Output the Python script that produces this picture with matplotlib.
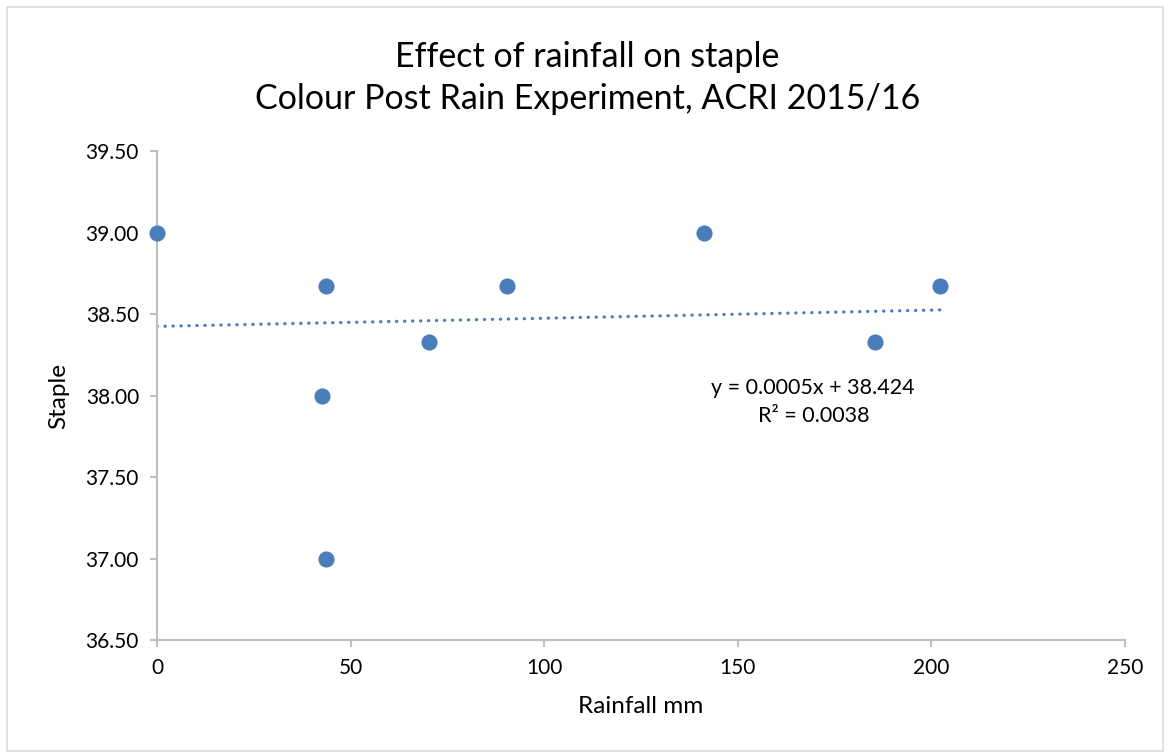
import numpy as np
import matplotlib.pyplot as plt
from matplotlib.patches import Rectangle

plt.rcParams['font.family'] = ['Lato', 'DejaVu Sans']

# rainfall (mm) vs staple
rainfall = [0, 43.6, 42.6, 43.6, 70.3, 90.4, 141.3, 185.4, 202.2]
staple = [39.00, 38.67, 38.00, 37.00, 38.33, 38.67, 39.00, 38.33, 38.67]

# linear trendline as reported on the chart
slope = 0.0005
intercept = 38.424
r_squared = 0.0038

x_ticks = [0, 50, 100, 150, 200, 250]
y_ticks = [36.5, 37.0, 37.5, 38.0, 38.5, 39.0, 39.5]

blue = '#4A7EBB'
grey = '#BFBFBF'

fig = plt.figure(figsize=(11.68, 7.54), dpi=100)
ax = fig.add_axes([0.1344, 0.1512, 0.8288, 0.6485])

# outer chart border
fig.patches.append(Rectangle((0.006, 0.004), 0.990, 0.987, transform=fig.transFigure,
                             fill=False, edgecolor='#D9D9D9', linewidth=1.2))

ax.scatter(rainfall, staple, s=135, color=blue, zorder=3, linewidths=0, clip_on=False)

xt = np.array([0, max(rainfall)])
ax.plot(xt, slope * xt + intercept, color=blue, linewidth=2.3,
        linestyle=(0, (0.1, 2.4)), dash_capstyle='round', zorder=2)

ax.set_xlim(0, 250)
ax.set_ylim(36.5, 39.5)
ax.set_xticks(x_ticks)
ax.set_yticks(y_ticks)
ax.set_yticklabels([f'{v:.2f}' for v in y_ticks])

for side in ['top', 'right']:
    ax.spines[side].set_visible(False)
for side in ['left', 'bottom']:
    ax.spines[side].set_color(grey)
    ax.spines[side].set_linewidth(1.5)
ax.tick_params(axis='both', direction='out', length=5, width=1.5, color=grey,
               labelsize=15, labelcolor='black')
ax.tick_params(axis='x', pad=8)
ax.tick_params(axis='y', pad=8)

ax.set_xlabel('Rainfall mm', fontsize=17.5, labelpad=13)
ax.set_ylabel('Staple', fontsize=17.5, labelpad=12)

fig.text(0.503, 0.925, 'Effect of rainfall on staple', ha='center', va='center', fontsize=24.5)
fig.text(0.503, 0.869, 'Colour Post Rain Experiment, ACRI 2015/16', ha='center', va='center',
         fontsize=24.5)

ax.text(169.5, 37.96, f'y = {slope}x + {intercept}\nR² = {r_squared}', ha='center', va='center',
        fontsize=15.5, linespacing=1.5)

fig.savefig('out.png', dpi=100)
